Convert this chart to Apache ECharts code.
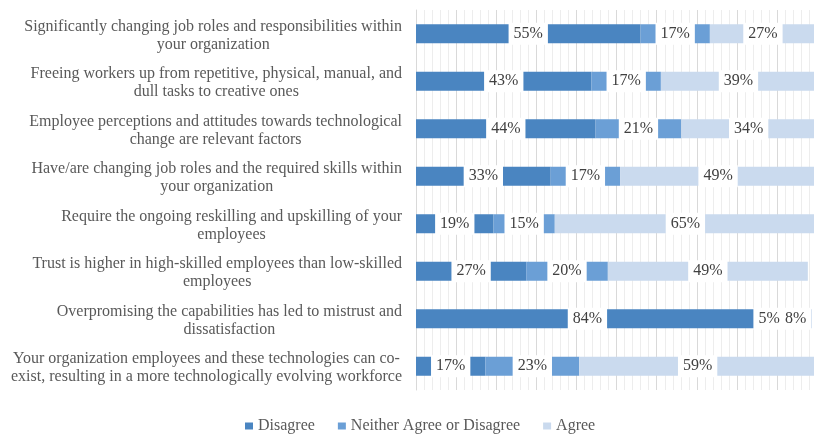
<!DOCTYPE html>
<html>
<head>
<meta charset="utf-8">
<script src="https://cdn.jsdelivr.net/npm/echarts@6/dist/echarts.min.js"></script>
<style>
  html, body { margin: 0; padding: 0; background: #ffffff; }
  #chart { width: 814px; height: 434px; }
</style>
</head>
<body>
<div id="chart"></div>
<script>
// Survey statements (top to bottom) and response shares in percent
const categories = [
  'Significantly changing job roles and responsibilities within\nyour organization',
  'Freeing workers up from repetitive, physical, manual, and\ndull tasks to creative ones',
  'Employee perceptions and attitudes towards technological\nchange are relevant factors',
  'Have/are changing job roles and the required skills within\nyour organization',
  'Require the ongoing reskilling and upskilling of your\nemployees',
  'Trust is higher in high-skilled employees than low-skilled\nemployees',
  'Overpromising the capabilities has led to mistrust and\ndissatisfaction',
  'Your organization employees and these technologies can co-\nexist, resulting in a more technologically evolving workforce'
];
const disagree = [55, 43, 44, 33, 19, 27, 84, 17];
const neither  = [17, 17, 21, 17, 15, 20, 5, 23];
const agree    = [27, 39, 34, 49, 65, 49, 8, 59];
const seriesNames = ['Disagree', 'Neither Agree or Disagree', 'Agree'];

const FONT = '"Liberation Serif", "Times New Roman", serif';
const colors = ['#4a85c1', '#6b9fd6', '#cadaee'];

function barSeries(name, data, color) {
  return {
    name: name,
    type: 'bar',
    stack: 'total',
    data: data,
    barWidth: 19,
    itemStyle: { color: color },
    label: {
      show: true,
      position: 'inside',
      formatter: '{c}%',
      fontFamily: FONT,
      fontSize: 16,
      lineHeight: 18,
      color: '#404040',
      backgroundColor: '#ffffff',
      padding: [2, 5, 2, 5]
    }
  };
}

const chart = echarts.init(document.getElementById('chart'), null, { renderer: 'canvas' });
chart.setOption({
  backgroundColor: '#ffffff',
  animation: false,
  color: colors,
  grid: {
    left: 416, right: -2, top: 10, bottom: 44,
    containLabel: false,
    outerBoundsMode: 'none'
  },
  legend: {
    data: seriesNames,
    left: 245,
    top: 418,
    padding: 0,
    icon: 'rect',
    itemWidth: 8,
    itemHeight: 7,
    itemGap: 23,
    textStyle: { fontFamily: FONT, fontSize: 16, color: '#595959' }
  },
  xAxis: {
    type: 'value',
    min: 0,
    max: 98,
    interval: 9.83,
    axisLabel: { show: false },
    axisTick: { show: false },
    axisLine: { show: false },
    splitLine: { show: true, lineStyle: { color: '#d9d9d9', width: 1 } },
    minorTick: { show: false, splitNumber: 5 },
    minorSplitLine: { show: true, lineStyle: { color: '#ededed', width: 1 } }
  },
  yAxis: {
    type: 'category',
    inverse: true,
    data: categories,
    axisTick: { show: false },
    axisLine: { show: true, lineStyle: { color: '#d9d9d9' } },
    axisLabel: {
      margin: 14,
      padding: [4, 0, 0, 0],
      formatter: function (value) {
        return value.split('\n').map(function (line) { return '{c|' + line + '}'; }).join('\n');
      },
      rich: {
        c: {
          align: 'center',
          fontFamily: FONT,
          fontSize: 16,
          lineHeight: 18,
          color: '#595959'
        }
      }
    }
  },
  series: [
    barSeries(seriesNames[0], disagree, colors[0]),
    barSeries(seriesNames[1], neither, colors[1]),
    barSeries(seriesNames[2], agree, colors[2])
  ]
});
</script>
</body>
</html>
